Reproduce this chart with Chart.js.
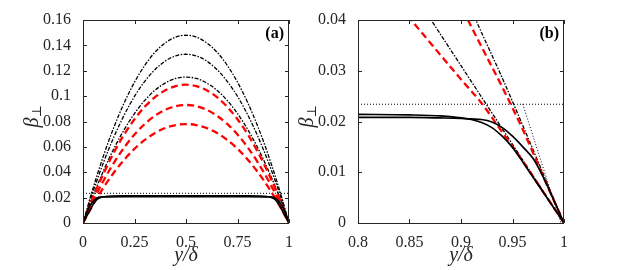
<!DOCTYPE html>
<html>
<head>
<meta charset="utf-8">
<script src="https://cdn.jsdelivr.net/npm/chart.js@4.4.0/dist/chart.umd.min.js"></script>
<style>
  html, body { margin: 0; padding: 0; background: #fff; }
  #wrap { position: relative; width: 623px; height: 270px; }
  #wrap canvas { position: absolute; left: 0; top: 0; }
</style>
</head>
<body>
<div id="wrap">
  <canvas id="chartA" width="623" height="270"></canvas>
  <canvas id="chartB" width="623" height="270"></canvas>
</div>
<script>
// ---- panel (a) data ----
const xA = [0, 0.05, 0.1, 0.15, 0.2, 0.25, 0.3, 0.35, 0.4, 0.45, 0.5, 0.55, 0.6, 0.65, 0.7, 0.75, 0.8, 0.85, 0.9, 0.95, 1];
const blackA1 = [0, 0.0281, 0.0533, 0.0755, 0.0947, 0.111, 0.1243, 0.1347, 0.1421, 0.1465, 0.148, 0.1465, 0.1421, 0.1347, 0.1243, 0.111, 0.0947, 0.0755, 0.0533, 0.0281, 0];
const blackA2 = [0, 0.0253, 0.0479, 0.0678, 0.0851, 0.0998, 0.1117, 0.121, 0.1277, 0.1317, 0.133, 0.1317, 0.1277, 0.121, 0.1117, 0.0998, 0.0851, 0.0678, 0.0479, 0.0253, 0];
const blackA3 = [0, 0.0219, 0.0414, 0.0587, 0.0736, 0.0863, 0.0966, 0.1047, 0.1104, 0.1139, 0.115, 0.1139, 0.1104, 0.1047, 0.0966, 0.0863, 0.0736, 0.0587, 0.0414, 0.0219, 0];
const redA1 = [0, 0.0207, 0.0392, 0.0556, 0.0698, 0.0818, 0.0916, 0.0992, 0.1046, 0.1079, 0.109, 0.1079, 0.1046, 0.0992, 0.0916, 0.0818, 0.0698, 0.0556, 0.0392, 0.0207, 0];
const redA2 = [0, 0.0177, 0.0335, 0.0474, 0.0595, 0.0698, 0.0781, 0.0846, 0.0893, 0.0921, 0.093, 0.0921, 0.0893, 0.0846, 0.0781, 0.0698, 0.0595, 0.0474, 0.0335, 0.0177, 0];
const redA3 = [0, 0.0148, 0.0281, 0.0398, 0.0499, 0.0585, 0.0655, 0.071, 0.0749, 0.0772, 0.078, 0.0772, 0.0749, 0.071, 0.0655, 0.0585, 0.0499, 0.0398, 0.0281, 0.0148, 0];

const xSA = [0, 0.01, 0.02, 0.03, 0.04, 0.05, 0.06, 0.07, 0.08, 0.1, 0.2, 0.5, 0.8, 0.9, 0.92, 0.93, 0.94, 0.95, 0.96, 0.97, 0.98, 0.99, 1];
const solidA1 = [0, 0.003, 0.006, 0.009, 0.012, 0.0149, 0.0171, 0.0188, 0.0198, 0.0207, 0.0214, 0.0214, 0.0214, 0.0207, 0.0198, 0.0188, 0.0171, 0.0149, 0.012, 0.009, 0.006, 0.003, 0];
const solidA2 = [0, 0.0045, 0.009, 0.0127, 0.015, 0.0171, 0.0188, 0.0199, 0.0204, 0.0206, 0.0208, 0.0208, 0.0208, 0.0206, 0.0204, 0.0199, 0.0188, 0.0171, 0.015, 0.0127, 0.009, 0.0045, 0];

// ---- panel (b) data ----
const xB = [0.8, 0.85, 0.9, 0.92, 0.94, 0.96, 0.98, 1];
const redB1 = [0.0525, 0.0404, 0.0283, 0.0236, 0.0179, 0.0122, 0.0061, 0];
const blackB1 = [0.062, 0.0465, 0.031, 0.0248, 0.0186, 0.0124, 0.0062, 0];
const redB2 = [0.0825, 0.0622, 0.0427, 0.0347, 0.0268, 0.0184, 0.0091, 0];
const blackB2 = [0.091, 0.068, 0.0465, 0.0375, 0.0286, 0.0192, 0.0096, 0];

const xSB = [0.8, 0.85, 0.88, 0.9, 0.91, 0.92, 0.93, 0.94, 0.95, 0.96, 0.97, 0.98, 0.99, 1];
const solidB1 = [0.0214, 0.0213, 0.0211, 0.0207, 0.0204, 0.0198, 0.0188, 0.0171, 0.0149, 0.012, 0.009, 0.006, 0.003, 0];
const solidB2 = [0.0208, 0.0208, 0.0207, 0.0206, 0.0205, 0.0204, 0.0199, 0.0188, 0.0171, 0.015, 0.0127, 0.009, 0.0045, 0];

// dotted reference lines
const dotLevel = 0.0234;
const dotLeftX = [0.003, 0.04];
const dotRightX = [0.96, 0.997];
const dotY = [0, 0.0234];

// ticks
const ticksAX = [0, 0.25, 0.5, 0.75, 1];
const ticksAY = [0, 0.02, 0.04, 0.06, 0.08, 0.1, 0.12, 0.14, 0.16];
const ticksBX = [0.8, 0.85, 0.9, 0.95, 1];
const ticksBY = [0, 0.01, 0.02, 0.03, 0.04];

const axisColor = '#262626';
const fontFam = "'Liberation Serif', 'DejaVu Serif', serif";

const pts = (xs, ys) => xs.map((x, i) => ({x: x, y: ys[i]}));

const dashDot = (data) => ({data: data, borderColor: '#000', borderWidth: 1.3, borderDash: [4, 1.5, 1.5, 1.5], order: 2});
const redDash = (data) => ({data: data, borderColor: '#ff0000', borderWidth: 2.3, borderDash: [7, 4], order: 1});
const solid = (data) => ({data: data, borderColor: '#000', borderWidth: 1.7, order: 0});
const dotted = (data) => ({data: data, borderColor: '#000', borderWidth: 1, borderDash: [1, 2], order: 3, cubicInterpolationMode: 'default', tension: 0});

// box + inward ticks, panel tag and y title
const framePlugin = {
    id: 'frame',
    afterDatasetsDraw(chart, args, opts) {
        const ctx = chart.ctx;
        const a = chart.chartArea;
        const xs = chart.scales.x, ys = chart.scales.y;
        ctx.save();
        ctx.strokeStyle = axisColor;
        ctx.lineWidth = 1;
        ctx.beginPath();
        xs.ticks.forEach(t => {
            const px = Math.round(xs.getPixelForValue(t.value)) + 0.5;
            ctx.moveTo(px, a.bottom); ctx.lineTo(px, a.bottom - 4);
            ctx.moveTo(px, a.top); ctx.lineTo(px, a.top + 4);
        });
        ys.ticks.forEach(t => {
            const py = Math.round(ys.getPixelForValue(t.value)) + 0.5;
            ctx.moveTo(a.left, py); ctx.lineTo(a.left + 4, py);
            ctx.moveTo(a.right, py); ctx.lineTo(a.right - 4, py);
        });
        ctx.stroke();
        ctx.strokeRect(a.left + 0.5, a.top + 0.5, a.right - a.left - 1, a.bottom - a.top);

        // panel tag
        ctx.fillStyle = '#000';
        ctx.font = 'bold 16px ' + fontFam;
        ctx.textAlign = 'right';
        ctx.textBaseline = 'middle';
        ctx.fillText(opts.tag, a.right - 5, a.top + 14);

        // y title: beta with perpendicular subscript
        ctx.fillStyle = axisColor;
        ctx.translate(a.left - 50, (a.top + a.bottom) / 2 - 4);
        ctx.rotate(-Math.PI / 2);
        ctx.textAlign = 'left';
        ctx.textBaseline = 'middle';
        ctx.font = 'italic 20px ' + fontFam;
        const w = ctx.measureText('β').width;
        ctx.fillText('β', -w, 0);
        ctx.font = '13px ' + fontFam;
        ctx.fillText('⊥', 0, 5);
        ctx.restore();
    }
};

function makeChart(id, datasets, o) {
    return new Chart(document.getElementById(id), {
        type: 'line',
        data: {datasets: datasets},
        options: {
            responsive: false,
            animation: false,
            devicePixelRatio: 1,
            layout: {padding: {left: 0, right: o.padRight, top: 20, bottom: 0}},
            elements: {point: {radius: 0}, line: {cubicInterpolationMode: 'monotone', fill: false}},
            plugins: {legend: {display: false}, tooltip: {enabled: false}, frame: {tag: o.tag}},
            scales: {
                x: {
                    type: 'linear', min: o.xMin, max: o.xMax,
                    afterBuildTicks: s => { s.ticks = o.ticksX.map(v => ({value: v})); },
                    afterFit: s => { s.height = 47; },
                    grid: {display: false},
                    border: {display: false},
                    ticks: {
                        color: axisColor, padding: 2, autoSkip: false, maxRotation: 0,
                        font: {family: fontFam, size: 16},
                        callback: v => String(+v.toFixed(4))
                    },
                    title: {
                        display: true, text: 'y/δ', color: axisColor,
                        font: {family: fontFam, size: 20, style: 'italic'},
                        padding: {top: 0, bottom: 2}
                    }
                },
                y: {
                    type: 'linear', min: o.yMin, max: o.yMax,
                    afterBuildTicks: s => { s.ticks = o.ticksY.map(v => ({value: v})); },
                    afterFit: s => { s.width = o.left; },
                    grid: {display: false},
                    border: {display: false},
                    ticks: {
                        color: axisColor, padding: 4,
                        font: {family: fontFam, size: 16},
                        callback: v => String(+v.toFixed(4))
                    }
                }
            }
        },
        plugins: [framePlugin]
    });
}

makeChart('chartA', [
    solid(pts(xSA, solidA1)),
    solid(pts(xSA, solidA2)),
    redDash(pts(xA, redA1)),
    redDash(pts(xA, redA2)),
    redDash(pts(xA, redA3)),
    dashDot(pts(xA, blackA1)),
    dashDot(pts(xA, blackA2)),
    dashDot(pts(xA, blackA3)),
    dotted([{x: 0, y: dotLevel}, {x: 1, y: dotLevel}]),
    dotted(pts(dotLeftX, dotY)),
    dotted(pts(dotRightX, dotY.slice().reverse()))
], {left: 83, padRight: 334, xMin: 0, xMax: 1, yMin: 0, yMax: 0.16, ticksX: ticksAX, ticksY: ticksAY, tag: '(a)'});

makeChart('chartB', [
    solid(pts(xSB, solidB1)),
    solid(pts(xSB, solidB2)),
    redDash(pts(xB, redB1)),
    redDash(pts(xB, redB2)),
    dashDot(pts(xB, blackB1)),
    dashDot(pts(xB, blackB2)),
    dotted([{x: 0.8, y: dotLevel}, {x: 1, y: dotLevel}]),
    dotted(pts(dotRightX, dotY.slice().reverse()))
], {left: 358, padRight: 59, xMin: 0.8, xMax: 1, yMin: 0, yMax: 0.04, ticksX: ticksBX, ticksY: ticksBY, tag: '(b)'});
</script>
</body>
</html>
